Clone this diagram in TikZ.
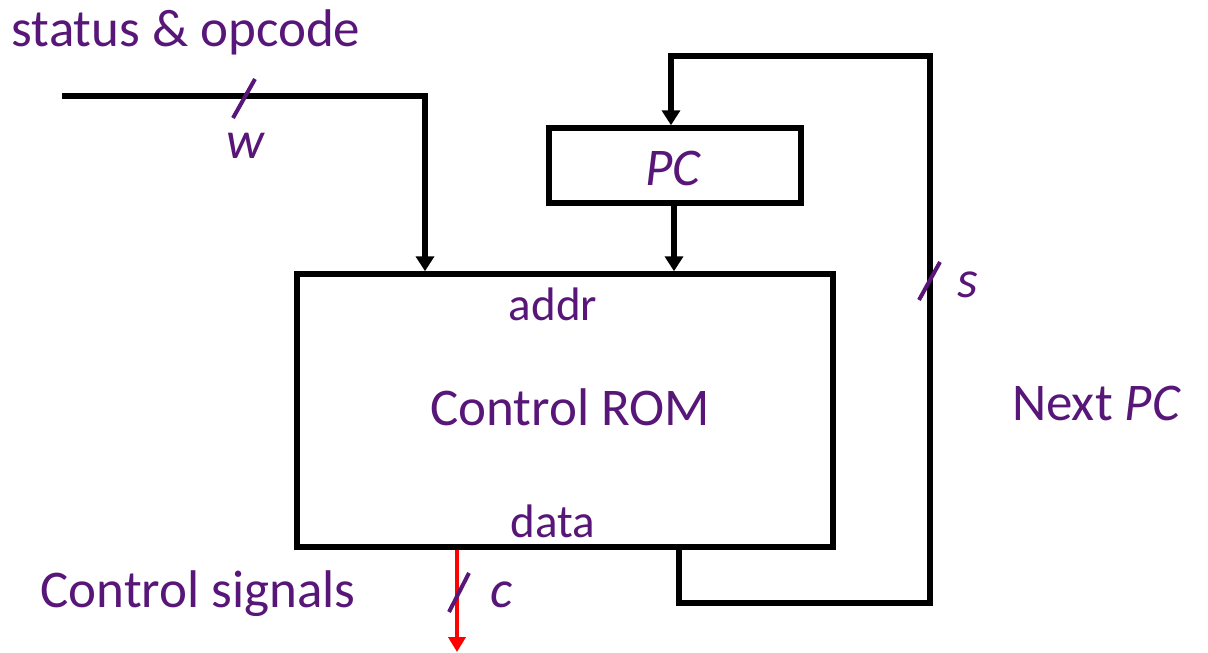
\documentclass[tikz,border=0pt]{standalone}
\usepackage{fontspec}
\setmainfont{Carlito}
\usepackage{xcolor}
\usetikzlibrary{positioning, arrows.meta}
\definecolor{lblpurple}{RGB}{88,22,120}

\begin{document}
\begin{tikzpicture}[
      x=1pt, y=-1pt,
      wire/.style={line width=5.5pt, line join=miter},
      arr/.style={wire, -{Triangle[length=15pt, width=18pt]}},
      sigarr/.style={line width=4pt, red, -{Triangle[length=15pt, width=17pt]}},
      box/.style={draw, line width=5.5pt, inner sep=0pt},
      lbl/.style={text=lblpurple, font=\fontsize{53}{63}\selectfont, inner sep=0pt, anchor=base},
      port/.style={lbl, font=\fontsize{47}{56}\selectfont},
      tick/.style={lblpurple, line width=4pt}
    ]
    \useasboundingbox (0,0) rectangle (1208,653);

    \node[box, minimum width=536pt, minimum height=273pt] (rom) at (565,410.5) {};
    \node[box, minimum width=252pt, minimum height=75pt] (pc) at (675,165.5) {};

    \node[lbl] (pctxt) at (673,185) {\itshape PC};
    \node[port] (addr) at (553,320) {addr};
    \node[lbl] (romtxt) at (570,425) {Control ROM};
    \node[port] (data) at (553,537) {data};

    \coordinate (in) at (62,96);
    \coordinate (ain) at (425,0);
    \coordinate (apc) at (674,0);
    \coordinate (dout) at (679,0);
    \coordinate (loop) at (930,56);
    \coordinate (pcin) at (671,0);
    \coordinate (cout) at (457,0);
    \coordinate (ctl) at (457,652);

    % wires
    \draw[arr] (in) -| (rom.north -| ain);
    \draw[arr] (pc.south -| apc) -- (rom.north -| apc);
    \draw[arr] (rom.south -| dout) -- ++(0,53) -| (loop) -| (pc.north -| pcin);
    \draw[sigarr] (rom.south -| cout) -- (ctl);

    % bus widths
    \draw[tick] (233,118) -- (255,79);
    \draw[tick] (919,300) -- (940,262);
    \draw[tick] (449,612) -- (469,573);
    \node[lbl] (w) at (245,158) {\itshape w};
    \node[lbl] (s) at (968,297) {\itshape s};
    \node[lbl] (c) at (502,607) {\itshape c};

    \node[lbl] (status) at (186,46) {status \& opcode};
    \node[lbl] (next) at (1096,420) {Next \itshape PC};
    \node[lbl] (signals) at (198,607) {Control signals};
  \end{tikzpicture}
\end{document}
